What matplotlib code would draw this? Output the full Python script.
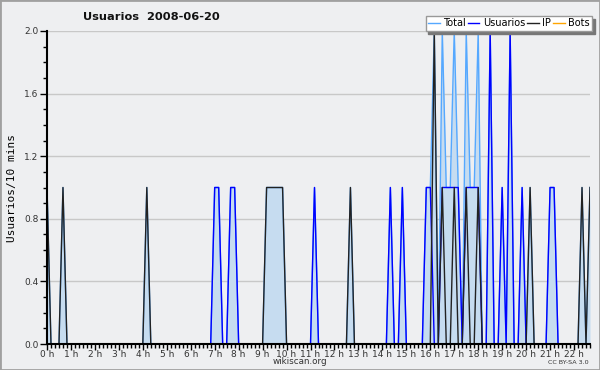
import matplotlib
matplotlib.use("Agg")
import matplotlib.pyplot as plt
import numpy as np
from matplotlib.ticker import MultipleLocator, FixedLocator
from matplotlib.patches import Rectangle

# 10-minute intervals starting at 0 h (index 0 .. 136)
usuarios = [
    0, 0, 0, 0, 0, 0, 0, 0, 0, 0, 0, 0,   # 0-2 h
    0, 0, 0, 0, 0, 0, 0, 0, 0, 0, 0, 0,   # 2-4 h
    0, 0, 0, 0, 0, 0, 0, 0, 0, 0, 0, 0,   # 4-6 h
    0, 0, 0, 0, 0, 0, 1, 1, 0, 0, 1, 1,   # 6-8 h
    0, 0, 0, 0, 0, 0, 0, 0, 0, 0, 0, 0,   # 8-10 h
    0, 0, 0, 0, 0, 0, 0, 1, 0, 0, 0, 0,   # 10-12 h
    0, 0, 0, 0, 0, 0, 0, 0, 0, 0, 0, 0,   # 12-14 h
    0, 0, 1, 0, 0, 1, 0, 0, 0, 0, 0, 1,   # 14-16 h
    1, 0, 0, 1, 1, 1, 1, 1, 0, 1, 1, 1,   # 16-18 h
    1, 0, 0, 2, 0, 0, 1, 0, 2, 0, 0, 1,   # 18-20 h
    0, 0, 0, 0, 0, 0, 1, 1, 0, 0, 0, 0,   # 20-22 h
    0, 0, 0, 0, 0,                        # 22 h -
]
ip = [
    1, 0, 0, 0, 1, 0, 0, 0, 0, 0, 0, 0,
    0, 0, 0, 0, 0, 0, 0, 0, 0, 0, 0, 0,
    0, 1, 0, 0, 0, 0, 0, 0, 0, 0, 0, 0,
    0, 0, 0, 0, 0, 0, 0, 0, 0, 0, 0, 0,
    0, 0, 0, 0, 0, 0, 0, 1, 1, 1, 1, 1,
    0, 0, 0, 0, 0, 0, 0, 0, 0, 0, 0, 0,
    0, 0, 0, 0, 1, 0, 0, 0, 0, 0, 0, 0,
    0, 0, 0, 0, 0, 0, 0, 0, 0, 0, 0, 0,
    0, 2, 0, 1, 0, 0, 1, 0, 0, 1, 0, 0,
    1, 0, 0, 0, 0, 0, 0, 0, 0, 0, 0, 0,
    0, 1, 0, 0, 0, 0, 0, 0, 0, 0, 0, 0,
    0, 0, 1, 0, 1,
]
bots = [0] * len(usuarios)
hour_labels = [f"{h} h" for h in range(23)]

u = np.array(usuarios, dtype=float)
p = np.array(ip, dtype=float)
b = np.array(bots, dtype=float)
total = u + p + b
x = np.arange(len(u))

BG = "#eeeff1"
fig = plt.figure(figsize=(6, 3.7), dpi=100, facecolor=BG)
ax = fig.add_axes([47/600, 1-344/370, 543/600, (344-31)/370])
ax.set_facecolor(BG)

ax.fill_between(x, total, 0, color="#c6dcf0", lw=0, zorder=1)
ax.plot(x, b, color="#ffa500", lw=1.0, zorder=1.5, label="Bots")
ax.plot(x, total, color="#55a8ff", lw=1.0, zorder=2, label="Total")
ax.plot(x, u, color="#0000ff", lw=1.0, zorder=3, label="Usuarios")
ax.plot(x, p, color="#222222", lw=1.0, zorder=4, label="IP")

ax.set_xlim(0, len(u) - 1)
ax.set_ylim(0, 2.0)

ax.set_yticks([0.0, 0.4, 0.8, 1.2, 1.6, 2.0])
ax.set_yticklabels(["0.0", "0.4", "0.8", "1.2", "1.6", "2.0"])
ax.yaxis.set_minor_locator(MultipleLocator(0.1))
ax.xaxis.set_major_locator(FixedLocator([6*h for h in range(23)]))
ax.set_xticklabels(hour_labels)
ax.xaxis.set_minor_locator(MultipleLocator(1))

ax.tick_params(axis="y", which="major", direction="out", length=5, width=1,
               labelsize=6.5, labelcolor="#333333", pad=1, color="black")
ax.tick_params(axis="x", which="major", direction="out", length=4, width=1,
               labelsize=6.5, labelcolor="#333333", pad=0, color="black")
ax.tick_params(axis="both", which="minor", direction="out", length=3, width=1, color="black")
ax.grid(axis="y", which="major", color="#c8c8c8", lw=1.0, zorder=0)
ax.set_axisbelow(True)

for s in ["top", "right"]:
    ax.spines[s].set_visible(False)
for s in ["left", "bottom"]:
    ax.spines[s].set_linewidth(1.5)
    ax.spines[s].set_color("black")
    ax.spines[s].set_zorder(10)

ax.set_ylabel("Usuarios/10 mins", family="DejaVu Sans Mono", fontsize=8, labelpad=5)

fig.text(151/600, 1-17/370, "Usuarios  2008-06-20", ha="center", va="center",
         fontsize=8.2, fontweight="bold", color="#111111")
fig.text(300/600, 1-362/370, "wikiscan.org", ha="center", va="center",
         fontsize=6.3, color="#333333")
fig.text(589/600, 1-363/370, "CC BY-SA 3.0", ha="right", va="center",
         fontsize=4.6, color="#333333")

h = {l.get_label(): l for l in ax.get_lines()}
order = ["Total", "Usuarios", "IP", "Bots"]
leg = fig.legend([h[k] for k in order], order, ncol=4, loc="upper right",
                 bbox_to_anchor=(592/600, 1-16/370), fontsize=7.0, frameon=True,
                 fancybox=False, shadow={"color": "#777777", "alpha": 1.0},
                 edgecolor="#999999", framealpha=1.0, handlelength=1.2,
                 handletextpad=0.35, columnspacing=0.2, borderpad=0.25,
                 borderaxespad=0)
leg.get_frame().set_linewidth(1.0)

fig.add_artist(Rectangle((0, 0), 1, 1, transform=fig.transFigure, fill=False,
                         edgecolor="#a0a0a0", lw=2.0))

fig.savefig("out.png", dpi=100, facecolor=BG)
